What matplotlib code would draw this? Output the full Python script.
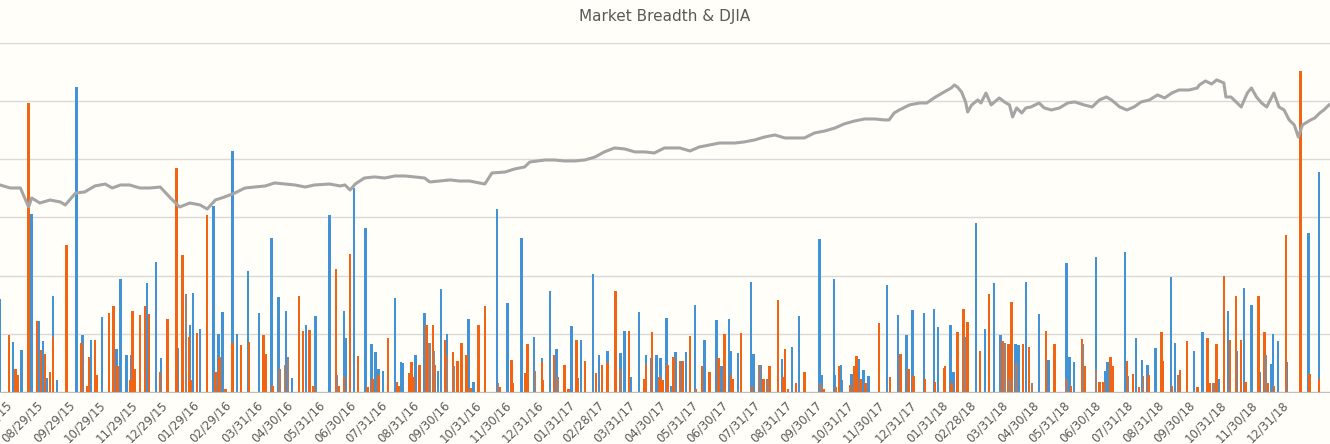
import matplotlib
matplotlib.use("Agg")
import matplotlib.pyplot as plt
import pandas as pd

start = pd.Timestamp("2015-07-29")

# days since start / value
blue_day = [-5, 8, 16, 26, 33, 37, 41, 47, 51, 70, 76, 84, 95, 109, 113, 119, 124, 139, 148, 153,
            169, 181, 184, 191, 204, 209, 213, 223, 227, 238, 249, 261, 268, 275, 281, 295, 304, 318,
            332, 334, 342, 353, 359, 363, 366, 370, 382, 388, 390, 402, 411, 424, 427, 433, 454, 459,
            482, 492, 506, 518, 526, 534, 540, 548, 555, 561, 564, 576, 582, 590, 603, 607, 613, 621,
            628, 633, 638, 642, 648, 653, 657, 662, 667, 676, 685, 697, 702, 709, 711, 718, 731, 733,
            740, 748, 761, 771, 778, 798, 800, 812, 813, 819, 820, 829, 836, 841, 846, 864, 875, 883,
            889, 900, 910, 914, 926, 929, 951, 960, 969, 975, 990, 993, 1000, 1013, 1022, 1040, 1043,
            1047, 1069, 1078, 1080, 1097, 1108, 1114, 1119, 1127, 1142, 1146, 1165, 1173, 1189, 1198,
            1207, 1214, 1221, 1229, 1240, 1242, 1247, 1256, 1277, 1287]
blue_val = [16, 8.6, 7.2, 30.6, 12.2, 8.8, 2.4, 16.5, 2, 52.4, 9.8, 8.9, 12.9, 7.4, 19.4, 6.3, 6.3, 18.8, 22.3, 5.8,
            7.6, 11.5, 17, 10.9, 32, 10, 13.8, 41.4, 10, 20.8, 13.5, 26.4, 16.3, 14, 2.4, 11.6, 13, 30.4,
            14, 9.2, 35, 28.2, 8.2, 6.9, 4, 3.6, 16.1, 5.1, 5, 6.3, 13.5, 3.6, 17.7, 10, 12.6, 1.7,
            31.4, 15.3, 26.5, 9.5, 5.8, 17.3, 7.4, 4, 11.4, 2.4, 9, 20.3, 6.4, 7, 6.7, 10.5, 2.6, 13.8,
            6.3, 5.9, 6.3, 5.9, 12.8, 1, 6.8, 5.3, 6.9, 15, 8.9, 12.4, 4.4, 12.6, 7, 6.7, 18.9, 6.5,
            4.7, 2.3, 5.7, 7.8, 13, 26.3, 3, 19.4, 3, 4.7, 2, 3.1, 5.7, 3.7, 2.7, 18.4, 13.3, 9.8,
            14.1, 13.5, 14.3, 11.2, 11.5, 3.5, 29, 10.9, 18.7, 9.8, 8.2, 8, 18.9, 13.4, 5.5, 22.2, 6,
            5.1, 23.2, 3.6, 5.1, 24, 9.2, 5.5, 4.6, 7.6, 19.8, 8.4, 7, 10.3, 2.3, 14,
            7, 17.9, 15, 3.5, 4.8, 9.9, 8.8, 5.2, 27.4, 37.8]

orange_day = [4, 10, 12, 23, 31, 35, 39, 44, 47, 60, 75, 80, 82, 88, 90, 102, 106, 110, 123, 125,
              127, 132, 137, 141, 152, 159, 168, 174, 180, 182, 188, 198, 206, 210, 216, 223, 231, 239,
              253, 255, 262, 288, 292, 298, 302, 324, 327, 332, 338, 346, 355, 360, 366, 375, 384, 386,
              396, 398, 400, 406, 413, 419, 421, 431, 439, 443, 447, 452, 456, 464, 470, 485, 496, 497,
              510, 512, 526, 527, 538, 548, 552, 560, 561, 568, 579, 585, 590, 598, 611, 626, 628, 634,
              641, 644, 649, 655, 661, 664, 671, 677, 683, 690, 699, 705, 711, 713, 721, 732, 743, 749,
              757, 762, 764, 767, 775, 783, 802, 814, 817, 828, 832, 834, 838, 843, 856, 867, 877, 885,
              890, 901, 911, 920, 921, 927, 933, 939, 943, 955, 964, 977, 983, 986, 997, 1003, 1020,
              1028, 1044, 1055, 1058, 1072, 1076, 1083, 1085, 1099, 1105, 1111, 1120, 1133, 1134, 1143,
              1151, 1158, 1168, 1178, 1180, 1187, 1194, 1200, 1206, 1211, 1215, 1228, 1234, 1237, 1243,
              1255, 1269, 1278, 1287]
orange_val = [9.8, 4, 3, 49.7, 12.2, 7.2, 6.5, 3.5, 9.4, 25.2, 8.4, 1, 6, 8.9, 3, 13.5, 14.8, 4.4, 2, 14,
              4, 13.3, 14.8, 13.4, 3.4, 12.6, 38.5, 23.5, 9.4, 2, 10.2, 30.4, 3.5, 6, 0.5, 8.4, 8.1, 8.6,
              9.8, 6.6, 1, 16.5, 10.5, 10.7, 1, 21.1, 1, 2.5, 23.7, 6.2, 0.8, 2.2, 3, 9.2, 1.7, 1,
              3.3, 5.2, 2.5, 4.6, 11.5, 11.5, 4.7, 8.9, 6.8, 5.4, 8.4, 6.3, 0.7, 11.6, 14.8, 0.8, 5.5, 1.5,
              3.3, 8.2, 5.2, 2, 6.4, 4.6, 0.5, 9, 2, 5.4, 3.3, 4.6, 5, 17.4, 10.5, 2.3, 4.6, 10.4,
              2.5, 2, 4.7, 6, 5.4, 5.3, 9.7, 0.5, 4.4, 3.4, 5.9, 9.9, 3, 2.2, 10.1, 1, 2.2, 4.5,
              15.8, 2.5, 7.4, 0.5, 1.5, 3.5, 0.5, 0.8, 4.5, 1.2, 4.5, 6.2, 2.2, 1.5, 11.9, 2.6, 6.5, 4,
              2.8, 2.3, 1.8, 4.1, 4.5, 1.5, 10.4, 14.2, 12, 7, 16.8, 8.8, 8.3, 15.5, 8.2, 7.8, 10.5,
              8.2, 1, 9.1, 4.4, 1.7, 1.7, 6.1, 4.4, 5.3, 3.1, 0.8, 3, 10.4, 5.4, 1,
              3.7, 8.8, 0.8, 9.2, 1.5, 8.2, 19.9, 8.9, 16.5, 8.9, 1.8, 16.5, 10.4, 1.5, 1,
              27, 55.2, 3.1, 2.2]

mixed_day = [177, 269, 274, 277, 325, 416, 420, 433, 440, 483, 519, 541, 603, 739, 747, 799, 940,
             979, 984, 991, 1006, 1040, 1056, 1069, 1100, 1115, 1149, 1184, 1235]
mixed_val = [16.8, 4, 4.7, 6, 3, 8.4, 7, 6.4, 4.5, 1.5, 3.6, 2.6, 4, 4.7, 2.2, 1.5, 9.4,
             8.4, 2.2, 5, 1.5, 2.2, 8.2, 3.8, 2.7, 2.8, 3, 1.5, 6.3]

djia_day = [-5, 5, 15, 23, 26, 34, 44, 54, 59, 69, 78, 88, 98, 105, 113, 122, 132, 142, 152, 162,
            171, 181, 191, 198, 206, 215, 225, 235, 245, 255, 264, 274, 284, 294, 303, 318, 328, 333,
            338, 343, 352, 362, 372, 382, 392, 401, 411, 416, 426, 436, 445, 455, 465, 470, 477, 490,
            499, 509, 514, 529, 538, 548, 558, 568, 578, 587, 597, 607, 617, 627, 636, 646, 661, 671,
            680, 690, 700, 715, 724, 734, 744, 754, 764, 773, 783, 793, 803, 813, 822, 832, 842, 852,
            862, 866, 871, 876, 886, 896, 903, 910, 920, 927, 930, 933, 937, 941, 943, 947, 953, 956,
            961, 966, 974, 979, 984, 987, 991, 996, 1000, 1005, 1013, 1018, 1025, 1033, 1041, 1048,
            1057, 1065, 1072, 1079, 1084, 1092, 1099, 1106, 1113, 1121, 1129, 1136, 1143, 1150, 1160,
            1168, 1170, 1176, 1182, 1187, 1194, 1196, 1201, 1206, 1211, 1217, 1221, 1226, 1231, 1236,
            1243, 1248, 1253, 1258, 1263, 1267, 1271, 1279, 1283, 1288, 1292, 1297]
djia_val = [17000, 16720, 16720, 14950, 15790, 15320, 15600, 15420, 15140, 16250, 16350, 16910, 17090, 16720,
            17000, 17000, 16720, 16720, 16810, 15790, 14950, 15320, 15140, 14760, 15600, 15880, 16250, 16720,
            16810, 16910, 17190, 17090, 17000, 16810, 17000, 17090, 16910, 17000, 16530, 17090, 17650, 17750,
            17650, 17840, 17840, 17750, 17650, 17280, 17370, 17470, 17370, 17370, 17190, 17090, 18120, 18210,
            18490, 18680, 19140, 19330, 19330, 19240, 19240, 19330, 19610, 20080, 20450, 20360, 20080, 20080,
            19980, 20450, 20450, 20170, 20540, 20730, 20910, 20910, 21010, 21190, 21470, 21660, 21380, 21380,
            21380, 21850, 22030, 22310, 22690, 22960, 23150, 23150, 23060, 23060, 23710, 23990, 24460, 24640,
            24640, 25110, 25670, 26040, 26320, 26130, 25670, 24740, 23800, 24460, 24920, 24640, 25570, 24460,
            25110, 24740, 24460, 23340, 24180, 23710, 24180, 24270, 24640, 24180, 23990, 24180, 24640, 24740,
            24460, 24270, 24920, 25200, 24920, 24270, 23990, 24270, 24740, 24920, 25390, 25110, 25570, 25850,
            25850, 26040, 26320, 26690, 26410, 26790, 26510, 25200, 25200, 24740, 24270, 25570, 26040, 25200,
            24640, 24270, 25570, 24270, 23990, 23060, 22590, 21470, 22590, 23060, 23240, 23710, 23990, 24460]

tick_labels = ["07/29/15", "08/29/15", "09/29/15", "10/29/15", "11/29/15", "12/29/15", "01/29/16",
               "02/29/16", "03/31/16", "04/30/16", "05/31/16", "06/30/16", "07/31/16", "08/31/16",
               "09/30/16", "10/31/16", "11/30/16", "12/31/16", "01/31/17", "02/28/17", "03/31/17",
               "04/30/17", "05/31/17", "06/30/17", "07/31/17", "08/31/17", "09/30/17", "10/31/17",
               "11/30/17", "12/31/17", "01/31/18", "02/28/18", "03/31/18", "04/30/18", "05/31/18",
               "06/30/18", "07/31/18", "08/31/18", "09/30/18", "10/31/18", "11/30/18", "12/31/18"]


def to_dates(days):
    return start + pd.to_timedelta(days, unit="D")


fig = plt.figure(figsize=(13.3, 4.44), dpi=100, facecolor="#fffef8")
ax = fig.add_axes([0, 52 / 444, 1, 349 / 444])
ax.set_facecolor("#fffef8")

w = pd.Timedelta(days=2.4)
ax.bar(to_dates(blue_day), blue_val, width=w, color="#4292d6", zorder=2)
ax.bar(to_dates(orange_day), orange_val, width=w, color="#f06414", zorder=3)
ax.bar(to_dates(mixed_day), mixed_val, width=w, color="#a07f74", zorder=3)

ax.set_ylim(0, 60)
ax.set_yticks(range(0, 61, 10))
ax.set_yticklabels([])
ax.tick_params(axis="y", length=0)
ax.grid(axis="y", color="#d9d9d9", linewidth=1, zorder=0)
ax.set_xlim(start - pd.Timedelta(days=5), start + pd.Timedelta(days=1298))
for s in ["top", "left", "right"]:
    ax.spines[s].set_visible(False)
ax.spines["bottom"].set_color("#bfbfbf")

ticks = pd.to_datetime(tick_labels, format="%m/%d/%y")
ax.set_xticks(ticks)
ax.set_xticklabels(tick_labels, rotation=45, ha="right", rotation_mode="anchor",
                   fontsize=8.5, color="#595959")
ax.tick_params(axis="x", length=0, pad=5)

ax2 = ax.twinx()
ax2.plot(to_dates(djia_day), djia_val, color="#a5a5a5", linewidth=2.2, zorder=4)
ax2.set_ylim(-2290, 30230)
ax2.set_yticks([])
for s in ax2.spines.values():
    s.set_visible(False)

fig.text(0.5, 1 - 16 / 444, "Market Breadth & DJIA", ha="center", va="center",
         fontsize=11, color="#595959")

fig.savefig("out.png", dpi=100, facecolor=fig.get_facecolor())
